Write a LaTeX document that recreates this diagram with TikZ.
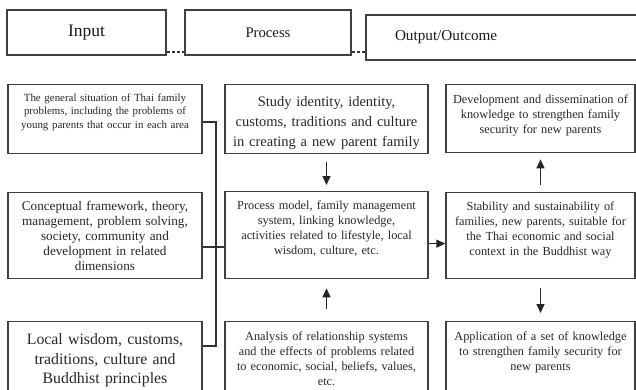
\documentclass[tikz,border=0pt]{standalone}
\usepackage{fontspec}
\setmainfont{Liberation Serif}
\usetikzlibrary{arrows.meta}

\begin{document}
\begin{tikzpicture}[x=1pt, y=-1pt,
      head/.style = {draw=black!75, line width=1.3pt, inner sep=0pt, text=black!90},
      box/.style  = {draw=black!75, line width=1.3pt, align=center, anchor=north,
                     inner xsep=3pt, inner ysep=0pt, text=black!85,
                     font=\fontsize{12.3}{15}\selectfont},
      tb/.style 2 args = {text height=#1pt, text depth=#2pt},
      link/.style = {line width=1.1pt, black!80},
      arr/.style  = {-{Triangle[length=9pt, width=8pt]}, line width=1.3pt, black!85}]
    \useasboundingbox (0,0) rectangle (636,389);
    % column headings
    \node[head, minimum width=159pt, minimum height=45pt,
          font=\fontsize{17.5}{20}\selectfont] (input)   at (86.5,32.5) {Input};
    \node[head, minimum width=166pt, minimum height=45pt,
          font=\fontsize{14.7}{17}\selectfont] (process) at (268,32.5)  {Process};
    \node[head, minimum height=45pt, text width=226pt, align=left, inner xsep=29pt,
          font=\fontsize{15.2}{18}\selectfont] (output)  at (508,37.5)  {Output/Outcome};
    \draw[link, dash pattern=on 3pt off 2pt] ([yshift=-19.5pt]input.east) -- ([yshift=-19.5pt]process.west);
    \draw[link, dash pattern=on 3pt off 2pt] ([yshift=-19.5pt]process.east) -- ([yshift=-19.5pt]process.east -| output.west);
    % input column
    \node[box, text width=188pt, tb={17}{52}, font=\fontsize{10.9}{13.3}\selectfont] (in1) at (105,84)
         {The general situation of Thai family\\problems, including the problems of\\young parents that occur in each area};
    \node[box, text width=188pt, tb={18}{68}, font=\fontsize{13.2}{15}\selectfont] (in2) at (105,192)
         {Conceptual framework, theory,\\management, problem solving,\\society, community and\\development in related\\dimensions};
    \node[box, text width=188pt, tb={23}{56}, font=\fontsize{15.8}{19.5}\selectfont] (in3) at (105,321)
         {Local wisdom, customs,\\traditions, culture and\\Buddhist principles};
    % process column
    \node[box, text width=197pt, tb={22}{47}, font=\fontsize{14.5}{20}\selectfont] (p1) at (326.5,84)
         {Study identity, identity,\\customs, traditions and culture\\in creating a new parent family};
    \node[box, text width=197pt, tb={18}{69}] (p2) at (326.5,191)
         {Process model, family management\\system, linking knowledge,\\activities related to lifestyle, local\\wisdom, culture, etc.};
    \node[box, text width=197pt, tb={19}{60}] (p3) at (326.5,321)
         {Analysis of relationship systems\\and the effects of problems related\\to economic, social, beliefs, values,\\etc.};
    % output column
    \node[box, text width=183pt, tb={19}{49}] (r1) at (540.5,84)
         {Development and dissemination of\\knowledge to strengthen family\\security for new parents};
    \node[box, text width=183pt, tb={18}{68}] (r2) at (540.5,192)
         {Stability and sustainability of\\families, new parents, suitable for\\the Thai economic and social\\context in the Buddhist way};
    \node[box, text width=183pt, tb={19}{60}] (r3) at (540.5,321)
         {Application of a set of knowledge\\to strengthen family security for\\new parents};
    % bracket joining the inputs
    \coordinate (jt) at (216,122);
    \coordinate (jm) at (216,247);
    \coordinate (jb) at (216,346);
    \draw[link] (in1.east |- jt) -- (jt) -- (jb) -- (in3.east |- jb);
    \draw[link] (in2.east |- jm) -- (p2.west |- jm);
    % arrows
    \draw[arr, shorten <=8pt, shorten >=6pt] (p1) -- (p2);
    \draw[arr, shorten <=12pt, shorten >=9pt] (p3) -- (p2);
    \draw[arr] ([yshift=-8.5pt]p2.east) -- ([yshift=-8.5pt]p2.east -| r2.west);
    \draw[arr, shorten <=7pt, shorten >=6pt] (r2) -- (r1);
    \draw[arr, shorten <=9pt, shorten >=8pt] (r2) -- (r3);
  \end{tikzpicture}
\end{document}
